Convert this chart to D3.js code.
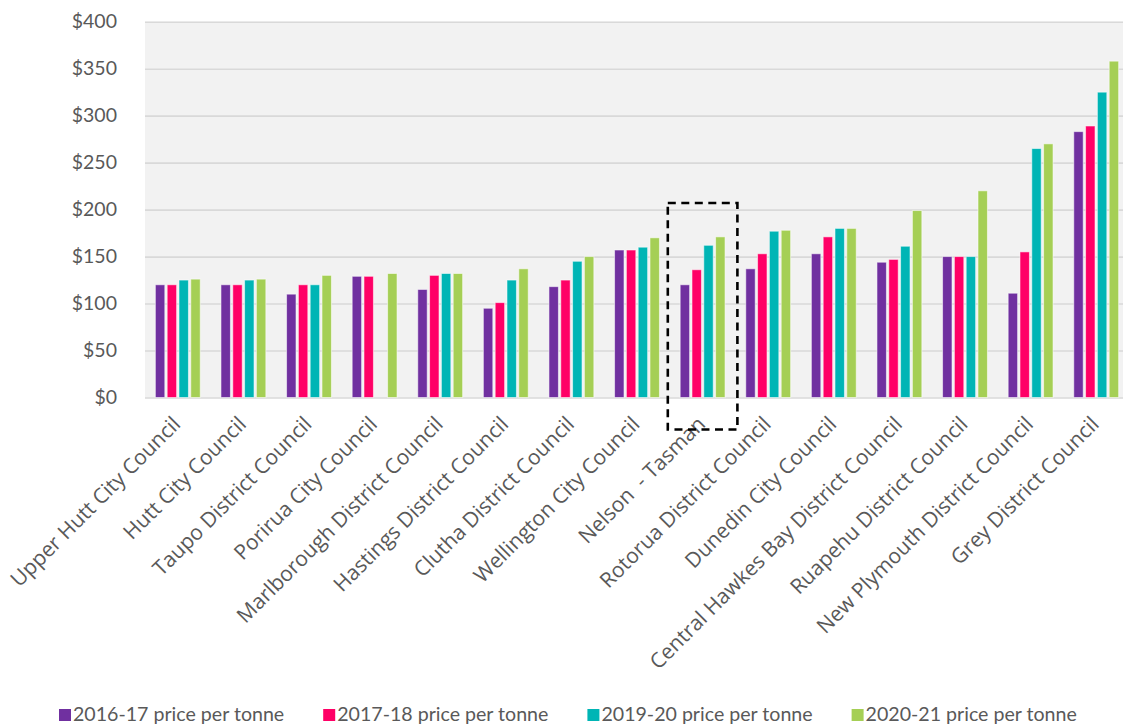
<!DOCTYPE html>
<html><head><meta charset="utf-8">
<script src="https://cdn.jsdelivr.net/npm/d3@7/dist/d3.min.js"></script>
<style>
html,body{margin:0;padding:0;background:#fff;}
svg{display:block;}
.xl{font-family:"Open Sans", "Noto Sans", sans-serif;}
</style></head>
<body>
<svg id="chart" width="1123" height="728"></svg>
<script>
const categories = ["Upper Hutt City Council","Hutt City Council","Taupo District Council","Porirua City Council","Marlborough District Council","Hastings District Council","Clutha District Council","Wellington City Council","Nelson  - Tasman","Rotorua District Council","Dunedin City Council","Central Hawkes Bay District Council","Ruapehu District Council","New Plymouth District Council","Grey District Council"];
const seriesNames = ["2016-17 price per tonne","2017-18 price per tonne","2019-20 price per tonne","2020-21 price per tonne"];
const s2016 = [120,120,110,129,115,95,118,157,120,137,153,144,150,111,283];
const s2017 = [120,120,120,129,130,101,125,157,136,153,171,147,150,155,289];
const s2019 = [125,125,120,0,132,125,145,160,162,177,180,161,150,265,325];
const s2020 = [126,126,130,132,132,137,150,170,171,178,180,199,220,270,358];
const yTicks = [0,50,100,150,200,250,300,350,400];
const highlighted = "Nelson  - Tasman";
const colors = ["#7030a0","#ff0066","#00b5b5","#a5cf55"];

const seriesValues = [s2016,s2017,s2019,s2020];
const svg = d3.select("#chart");
const pLeft = 145, pRight = 1129, pTop = 21.7, pBottom = 397.5;

const x0 = d3.scaleBand().domain(categories).range([pLeft, pRight]).paddingInner(0.28).paddingOuter(0.14);
const x1 = d3.scaleBand().domain(seriesNames).range([0, x0.bandwidth()]).paddingInner(0.2).paddingOuter(0.1);
const y = d3.scaleLinear().domain([0,400]).range([pBottom, pTop]);

// plot background
svg.append("rect").attr("x", pLeft).attr("y", y(400)).attr("width", pRight-pLeft).attr("height", y(0)-y(400)).attr("fill","#f2f2f2");

// gridlines
const yAxis = d3.axisLeft(y).tickValues(yTicks).tickSize(-(pRight-pLeft)).tickFormat(d => "$" + d);
const gy = svg.append("g").attr("transform", `translate(${pLeft},0)`).call(yAxis);
gy.attr("font-family", null).attr("font-size", null);
gy.select(".domain").remove();
gy.selectAll(".tick line").attr("stroke","#d9d9d9").attr("stroke-width",1.6);
gy.selectAll(".tick text").attr("x",-28).attr("fill","#595959").style("font-family","Lato, sans-serif").style("font-size","19.5px");

// bars
const groups = svg.append("g").selectAll("g").data(categories).join("g")
  .attr("transform", d => `translate(${x0(d)},0)`);
groups.selectAll("rect").data((d,i) => seriesNames.map((s,j) => ({s, j, v: seriesValues[j][i]})).filter(e => e.v > 0))
  .join("rect")
  .attr("x", e => x1(e.s))
  .attr("y", e => y(e.v))
  .attr("width", x1.bandwidth())
  .attr("height", e => y(0) - y(e.v))
  .attr("fill", e => colors[e.j])
  .attr("stroke", "rgba(255,255,255,0.55)")
  .attr("stroke-width", 1);

// x axis labels
const xAxis = d3.axisBottom(x0).tickSize(0).tickPadding(0);
const gx = svg.append("g").attr("transform", `translate(0,${pBottom})`).call(xAxis);
gx.attr("font-family", null).attr("font-size", null);
gx.select(".domain").remove();
gx.selectAll(".tick text")
  .attr("class","xl")
  .attr("text-anchor","end")
  .attr("dy", null).attr("y", 0)
  .attr("transform", "translate(4,28) rotate(-45)")
  .attr("fill","#595959")
  .style("white-space","pre")
  .style("font-size","21px");

// highlight dashed box
const step = x0.step();
const hx = x0(highlighted) - step*x0.paddingInner()/2 - 2;
svg.append("rect")
  .attr("x", hx).attr("y", y(207))
  .attr("width", step + 4).attr("height", y(0) + 32 - y(207))
  .attr("fill","none").attr("stroke","#000").attr("stroke-width",2.6)
  .attr("stroke-dasharray","8,5.5");

// legend
const legend = svg.append("g").attr("transform","translate(59,718)");
let lx = 0;
seriesNames.forEach((name, j) => {
  const g = legend.append("g").attr("transform", `translate(${lx},0)`);
  g.append("rect").attr("x",0).attr("y",-9).attr("width",12).attr("height",12).attr("fill",colors[j]);
  const t = g.append("text").attr("x",14).attr("y",3).attr("fill","#595959")
    .style("font-family","Lato, sans-serif").style("font-size","19.6px").text(name);
  lx += 14 + t.node().getComputedTextLength() + 39;
});
</script>
</body></html>
